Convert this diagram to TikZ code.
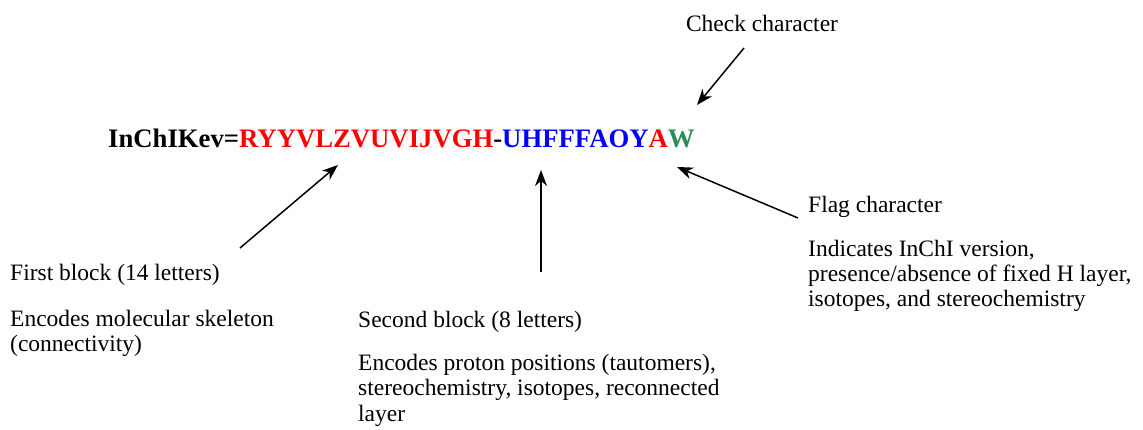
\documentclass[tikz,border=0pt]{standalone}
\usepackage{fontspec}
\setmainfont{Liberation Serif}
\usetikzlibrary{arrows.meta}
\definecolor{keygreen}{RGB}{46,139,87}
\tikzset{
  lbl/.style={anchor=base west, inner sep=0pt, font=\fontsize{23.5}{25.5}\selectfont, align=left},
  arr/.style={-{Stealth[length=16pt,width=12pt,inset=5pt]}, line width=1.5pt}
}
\begin{document}
\begin{tikzpicture}[x=1pt,y=-1pt]
\useasboundingbox (0,0) rectangle (1143,430);
\node[anchor=base west, inner sep=0pt, font=\fontsize{26.7}{30}\selectfont\bfseries] (key) at (108,148)
  {InChIKev=\textcolor{red}{RYYVLZVUVIJVGH}-\textcolor{blue}{UHFFFAOY}\textcolor{red}{A}\textcolor{keygreen}{W}};
\node[anchor=base, inner sep=0pt, font=\fontsize{23.5}{25}\selectfont] (check) at (762,32) {Check character};
\node[lbl] (first) at (10,281) {First block (14 letters)};
\node[lbl] (firstd) at (10,352) {Encodes molecular skeleton\\(connectivity)};
\node[lbl] (second) at (358,327) {Second block (8 letters)};
\node[lbl] (secondd) at (358,421) {Encodes proton positions (tautomers),\\stereochemistry, isotopes, reconnected\\layer};
\node[lbl] (flag) at (808,213) {Flag character};
\node[lbl] (flagd) at (808,307) {Indicates InChI version,\\presence/absence of fixed H layer,\\isotopes, and stereochemistry};
\coordinate (c1) at (744,48);  \coordinate (c2) at (697,105);
\coordinate (f1) at (240,248); \coordinate (f2) at (338,165);
\coordinate (s1) at (541,272); \coordinate (s2) at (541,170);
\coordinate (g1) at (798,218); \coordinate (g2) at (677,167);
\draw[arr] (c1) -- (c2);
\draw[arr] (f1) -- (f2);
\draw[arr] (s1) -- (s2);
\draw[arr] (g1) -- (g2);
\end{tikzpicture}
\end{document}
